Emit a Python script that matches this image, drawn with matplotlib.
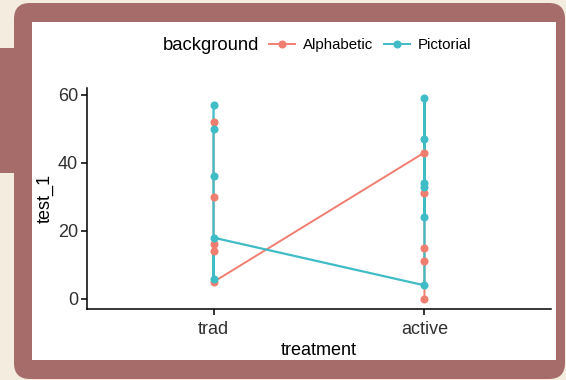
import matplotlib
matplotlib.use('Agg')
import matplotlib.pyplot as plt
from matplotlib.patches import FancyBboxPatch, Rectangle
from matplotlib.lines import Line2D
from matplotlib.transforms import IdentityTransform

plt.rcParams['font.family'] = ['Liberation Sans', 'DejaVu Sans']

# data (order matters: lines join points in data order)
treatments = ['trad', 'active']
alpha_trad = [52, 30, 16, 14, 5]
alpha_active = [43, 31, 15, 11, 0]
pict_trad = [57, 50, 36, 6, 18]
pict_active = [4, 59, 47, 34, 33, 24]

col_alpha = '#f07e70'
col_pict = '#3fbcc6'
mauve = '#a56c6a'
cream = '#f4ecdf'

fig = plt.figure(figsize=(5.66, 3.8), dpi=100)
fig.patch.set_facecolor(cream)

# decorative frame (pixel coordinates, origin bottom-left)
fig.patches.append(Rectangle((0, 207), 30, 125, transform=IdentityTransform(),
                             facecolor=mauve, edgecolor='none', zorder=-10))
fig.patches.append(FancyBboxPatch((14, 1), 551, 376, boxstyle='round,pad=0,rounding_size=16',
                                  transform=IdentityTransform(), facecolor=mauve,
                                  edgecolor='none', zorder=-10))
fig.patches.append(Rectangle((32, 20), 524, 338, transform=IdentityTransform(),
                             facecolor='white', edgecolor='none', zorder=-9))

ax = fig.add_axes([87 / 566, 71 / 380, 464 / 566, 221 / 380])
ax.set_facecolor('none')


def series(trad, active):
    xs = [0] * len(trad) + [1] * len(active)
    return xs, trad + active


xa, ya = series(alpha_trad, alpha_active)
xp, yp = series(pict_trad, pict_active)

ax.plot(xa, ya, color=col_alpha, lw=1.4, zorder=2)
ax.plot(xp, yp, color=col_pict, lw=1.6, zorder=2)
ax.plot(xa, ya, 'o', color=col_alpha, ms=5.8, mec='none', zorder=3)
ax.plot(xp, yp, 'o', color=col_pict, ms=5.8, mec='none', zorder=3)

ax.set_xlim(-0.6, 1.6)
ax.set_ylim(-2.95, 61.95)
ax.set_xticks([0, 1])
ax.set_xticklabels(treatments)
ax.set_yticks([0, 20, 40, 60])
for s in ['top', 'right']:
    ax.spines[s].set_visible(False)
for s in ['left', 'bottom']:
    ax.spines[s].set_linewidth(1.1)
ax.tick_params(length=4.5, width=1.1, labelsize=13, labelcolor='#303030')
ax.tick_params(axis='x', pad=4)
ax.tick_params(axis='y', pad=2)
ax.set_xlabel('treatment', fontsize=13, labelpad=3)
ax.set_ylabel('test_1', fontsize=13, labelpad=3)

# legend across the top
fig.text(163 / 566, 1 - 45 / 380, 'background', fontsize=13.3, va='center', ha='left')
handles = [Line2D([], [], color=col_alpha, lw=1.4, marker='o', ms=5.8, mec='none'),
           Line2D([], [], color=col_pict, lw=1.4, marker='o', ms=5.8, mec='none')]
fig.legend(handles, ['Alphabetic', 'Pictorial'], ncol=2, frameon=False, fontsize=10.8,
           loc='center left', bbox_to_anchor=(269 / 566, 1 - 45 / 380),
           handlelength=1.7, handletextpad=0.55, columnspacing=0.75, borderaxespad=0,
           borderpad=0)

fig.savefig('out.png', dpi=100, facecolor=fig.get_facecolor())
